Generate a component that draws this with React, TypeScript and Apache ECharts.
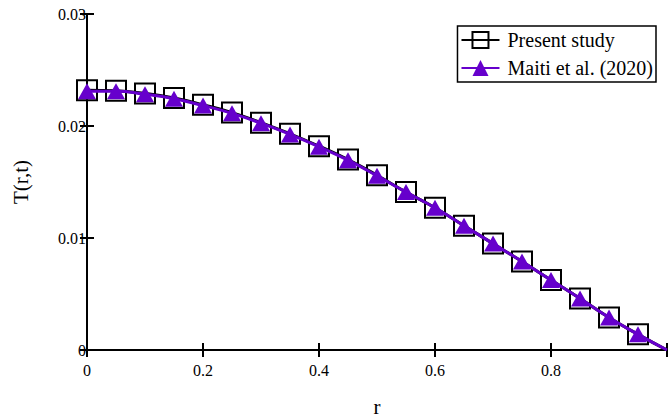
import React, { useEffect, useRef } from "react";
import * as echarts from "echarts";

const rValues = [0, 0.05, 0.1, 0.15, 0.2, 0.25, 0.3, 0.35, 0.4, 0.45, 0.5, 0.55, 0.6, 0.65, 0.7, 0.75, 0.8, 0.85, 0.9, 0.95, 1.0];
const presentT = [0.0232, 0.02315, 0.0229, 0.0225, 0.0219, 0.0212, 0.0203, 0.0193, 0.0182, 0.0170, 0.0156, 0.0141, 0.0127, 0.0111, 0.0095, 0.0079, 0.00625, 0.0046, 0.0029, 0.0014, 0];
const maitiT = [0.0231, 0.0231, 0.02283, 0.02243, 0.02183, 0.02113, 0.02025, 0.01925, 0.01815, 0.01695, 0.01555, 0.0141, 0.0127, 0.0111, 0.0095, 0.0079, 0.00625, 0.0046, 0.0029, 0.0014, 0];
const xTicks = [0, 0.2, 0.4, 0.6, 0.8];
const seriesNames = ["Present study", "Maiti et al. (2020)"];

const FONT = "Liberation Serif, Times New Roman, serif";
const PURPLE = "#6600cc";

function buildData(vals: number[]) {
  return rValues.map((r, i) =>
    i === rValues.length - 1 ? { value: [r, vals[i]], symbol: "none" } : [r, vals[i]]
  );
}

export default function App() {
  const ref = useRef<HTMLDivElement>(null);
  useEffect(() => {
    if (!ref.current) return;
    const chart = echarts.init(ref.current, undefined, { renderer: "svg" });
    const axisLine = { show: true, lineStyle: { color: "#000", width: 2 } };
    const tickStyle = { show: true, inside: true, length: 7, lineStyle: { color: "#000", width: 2 } };
    chart.setOption({
      animation: false,
      backgroundColor: "#fff",
      textStyle: { fontFamily: FONT },
      grid: { left: 87, right: 3, top: 14, bottom: 69, containLabel: false, outerBoundsMode: "none" },
      legend: {
        orient: "vertical",
        right: 14,
        top: 26,
        data: seriesNames,
        backgroundColor: "#fff",
        borderColor: "#000",
        borderWidth: 1.5,
        borderRadius: 0,
        padding: [4, 3, 4, 3],
        itemWidth: 38,
        itemHeight: 20,
        itemGap: 8,
        textStyle: { fontFamily: FONT, fontSize: 20, color: "#000", padding: [0, 0, 0, 3] },
      },
      xAxis: [
        {
          type: "value",
          min: 0,
          max: 1,
          interval: 0.2,
          name: "r",
          nameLocation: "middle",
          nameGap: 46,
          nameTextStyle: { fontFamily: FONT, fontSize: 21, color: "#000" },
          axisLine,
          axisTick: tickStyle,
          splitLine: { show: false },
          axisLabel: {
            fontFamily: FONT,
            fontSize: 16,
            color: "#000",
            margin: 12,
            formatter: (v: number) => (xTicks.some((t) => Math.abs(t - v) < 1e-9) ? String(+v.toFixed(2)) : ""),
          },
        },
        {
          type: "value",
          position: "top",
          min: 0,
          max: 1,
          interval: 0.2,
          axisLine,
          axisTick: tickStyle,
          axisLabel: { show: false },
          splitLine: { show: false },
        },
      ],
      yAxis: [
        {
          type: "value",
          min: 0,
          max: 0.03,
          interval: 0.01,
          name: "T(r,t)",
          nameLocation: "middle",
          nameRotate: 90,
          nameGap: 56,
          nameTextStyle: { fontFamily: FONT, fontSize: 21, color: "#000" },
          axisLine,
          axisTick: tickStyle,
          splitLine: { show: false },
          axisLabel: {
            fontFamily: FONT,
            fontSize: 16,
            color: "#000",
            margin: 1,
            formatter: (v: number) => (v === 0 ? "0" : v.toFixed(2)),
          },
        },
        {
          type: "value",
          position: "right",
          min: 0,
          max: 0.03,
          interval: 0.01,
          axisLine,
          axisTick: tickStyle,
          axisLabel: { show: false },
          splitLine: { show: false },
        },
      ],
      series: [
        {
          name: seriesNames[0],
          type: "line",
          data: buildData(presentT),
          smooth: true,
          symbol: "rect",
          symbolSize: 20,
          lineStyle: { color: "#000", width: 3 },
          itemStyle: { color: "rgba(0,0,0,0)", borderColor: "#000", borderWidth: 2 },
          z: 2,
        },
        {
          name: seriesNames[1],
          type: "line",
          data: buildData(maitiT),
          smooth: true,
          symbol: "triangle",
          symbolSize: [18, 16],
          lineStyle: { color: PURPLE, width: 3 },
          itemStyle: { color: PURPLE, borderWidth: 0 },
          z: 3,
        },
      ],
    });
    return () => chart.dispose();
  }, []);
  return <div ref={ref} style={{ position: "fixed", left: 0, top: 0, width: 670, height: 419 }} />;
}
